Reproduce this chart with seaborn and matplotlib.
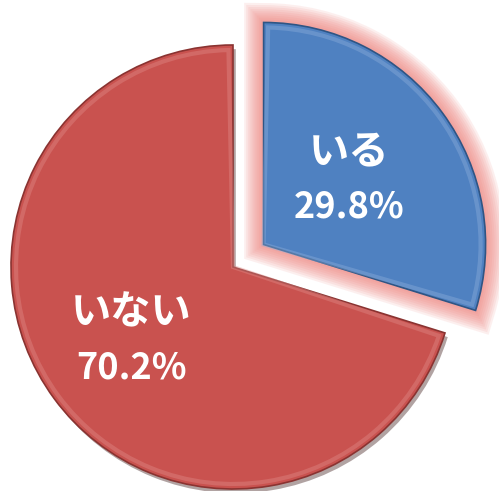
import numpy as np
import matplotlib.pyplot as plt
import matplotlib.patheffects as pe
from matplotlib.patches import Wedge
import seaborn as sns

labels = ["いる", "いない"]
shares = [29.8, 70.2]
colors = ["#4f81c1", "#c9524f"]
edge_dark = ["#2f5584", "#8a3331"]
edge_light = ["#8fb0dc", "#e08c89"]
explode = [38, 0]
label_dist = [0.48, 0.57]

sns.set_theme(style="white")
plt.rcParams["font.family"] = ["Noto Sans CJK JP", "DejaVu Sans"]

fig = plt.figure(figsize=(4.99, 4.91), dpi=100)
ax = fig.add_axes([0, 0, 1, 1])

wedges, _ = ax.pie(shares, colors=colors, startangle=90, counterclock=False,
                   radius=222, center=(233, 224), explode=explode,
                   wedgeprops=dict(linewidth=1.2))
ax.set_xlim(0, 499)
ax.set_ylim(0, 491)
ax.set_aspect("auto")
ax.axis("off")

# soft pink glow round the exploded slice
glow = [pe.Stroke(linewidth=lw, foreground="#ee7f7b", alpha=0.12)
        for lw in range(28, 2, -3)]
wedges[0].set_path_effects(glow + [pe.Normal()])
wedges[1].set_path_effects([
    pe.SimplePatchShadow(offset=(2, -3), alpha=0.4, rho=0.3),
    pe.Normal(),
])

for i, w in enumerate(wedges):
    w.set_edgecolor(edge_dark[i])
    # soft bevel highlight just inside the edge
    inner = Wedge(w.center, w.r - 5, w.theta1 + 1.2, w.theta2 - 1.2,
                  facecolor="none", edgecolor=edge_light[i], linewidth=3, alpha=0.4)
    ax.add_patch(inner)

    mid = np.deg2rad((w.theta1 + w.theta2) / 2)
    cx = w.center[0] + w.r * label_dist[i] * np.cos(mid)
    cy = w.center[1] + w.r * label_dist[i] * np.sin(mid)
    ax.text(cx, cy + 29, labels[i], color="white", fontsize=29, fontweight="bold",
            ha="center", va="center")
    ax.text(cx, cy - 26, f"{shares[i]:.1f}%", color="white", fontsize=26,
            fontweight="bold", ha="center", va="center")

fig.savefig("out.png", dpi=100)
